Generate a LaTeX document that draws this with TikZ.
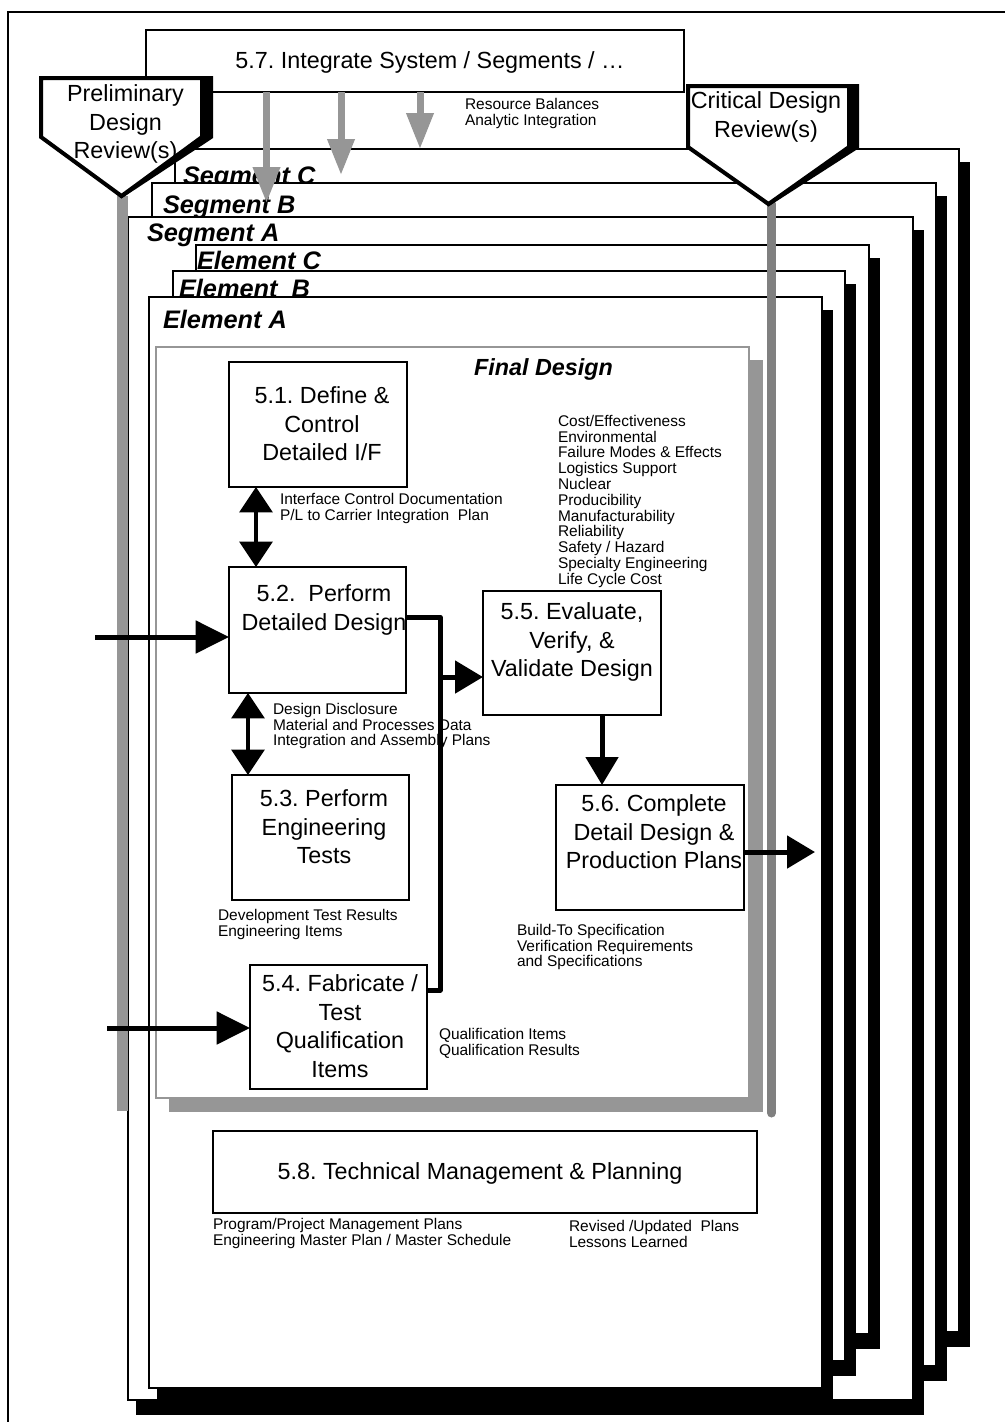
\documentclass[tikz,border=0pt]{standalone}
\usepackage{fontspec}
\setmainfont{Liberation Sans}
\usetikzlibrary{arrows.meta,calc}
\frenchspacing

\definecolor{dither}{RGB}{150,150,150}
\definecolor{bargray}{RGB}{128,128,128}

% one sheet of the stack: black offset shadow, then the white sheet
\newcommand{\stackpage}[4]{%
  \fill[black] (#1+8,#2+13) rectangle (#3+11,#4+15);
  \draw[sheet] (#1,#2) rectangle (#3,#4);}

\begin{document}
\begin{tikzpicture}[x=0.75pt,y=-0.75pt,
  every node/.style={inner sep=0pt,outer sep=0pt},
  frame/.style={draw=black,line width=1.5pt},
  sheet/.style={draw=black,fill=white,line width=1.5pt},
  sysbox/.style={draw=black,fill=white,line width=1.5pt},
  procbox/.style={draw=black,fill=white,line width=1.9pt},
  fdbox/.style={draw=dither,fill=white,line width=1.3pt},
  pagelabel/.style={anchor=base west,font=\fontsize{19}{22}\selectfont\bfseries\itshape},
  fdtitle/.style={anchor=north,font=\fontsize{17.5}{21}\selectfont\bfseries\itshape},
  boxtext/.style={anchor=north,align=center,font=\fontsize{17.5}{21.4}\selectfont},
  note/.style={anchor=north west,align=left,font=\fontsize{11.6}{11.85}\selectfont},
  review/.style={draw=black,fill=white,line width=3pt,line join=miter},
  reviewshadow/.style={draw=black,fill=black,line width=3pt,line join=miter},
  grayflow/.style={draw=dither,line width=5.25pt,-{Triangle[width=19.5pt,length=27pt]}},
  flow/.style={line width=3.75pt,-{Triangle[width=24pt,length=21pt]}},
  feed/.style={line width=3.75pt,-{Triangle[width=24pt,length=25pt]}},
  twoway/.style={line width=3pt,{Triangle[width=24.5pt,length=19pt]}-{Triangle[width=24.5pt,length=19pt]}},
  busline/.style={line width=3.75pt,line join=round},
]
\useasboundingbox (0,0) rectangle (1004,1422);
\fill[white] (0,0) rectangle (1004,1422);
% outer frame, running past the right and bottom edges
\draw[frame] (8,1430) -- (8,12) -- (1012,12);

% system integration box
\node[sysbox,minimum width=403.5pt,minimum height=46.5pt] (sys) at (415,61) {};
\node[boxtext] (sysT) at (430,52) {5.7. Integrate System / Segments / …};
\node[note] (sysN) at (465,98) {Resource Balances\\Analytic Integration};

% stacked segment and element sheets, back to front
\stackpage{175}{149}{959}{1332}
\node[pagelabel] (segC) at (183,184) {Segment C};
\stackpage{152}{183}{936}{1366}
\node[pagelabel] (segB) at (163,213) {Segment B};
\stackpage{128}{217}{913}{1400}
\node[pagelabel] (segA) at (147,241) {Segment A};
\stackpage{196}{245}{869}{1334}
\node[pagelabel] (elC) at (197,269) {Element C};
\stackpage{173}{271}{845}{1361}
\node[pagelabel] (elB) at (179,297) {Element\ \ B};
\stackpage{149}{297}{822}{1388}
\node[pagelabel] (elA) at (163,328) {Element A};

% integration arrows from 5.7 down onto the segments
\coordinate (g1) at (266.5,203);
\coordinate (g2) at (341,175);
\coordinate (g3) at (420,149);
\draw[grayflow] (g1 |- sys.south) -- (g1);
\draw[grayflow] (g2 |- sys.south) -- (g2);
\draw[grayflow] (g3 |- sys.south) -- (g3);

% review milestones with their timelines
\coordinate (pdrTip) at (121.5,196);
\coordinate (pdrFoot) at (122.5,1111);
\coordinate (cdrTip) at (768.5,204);
\coordinate (cdrFoot) at (771.5,1113);
\draw[dither,line width=8pt] (pdrTip -| pdrFoot) -- (pdrFoot);
\draw[bargray,line width=6.75pt,line cap=round] (cdrTip -| cdrFoot) -- (cdrFoot);

\draw[reviewshadow,shift={(9,0)}] (41,78) -- (202,78) -- (202,137) -- (pdrTip) -- (41,137) -- cycle;
\draw[review] (41,78) -- (202,78) -- (202,137) -- (pdrTip) -- (41,137) -- cycle;
\node[boxtext] (pdrT) at (125.5,85) {Preliminary\\Design\\Review(s)};

\draw[reviewshadow,shift={(8,0)}] (688,86) -- (849,86) -- (849,147) -- (cdrTip) -- (688,147) -- cycle;
\draw[review] (688,86) -- (849,86) -- (849,147) -- (cdrTip) -- (688,147) -- cycle;
\node[boxtext] (cdrT) at (766,92) {Critical Design\\Review(s)};

% final design frame
\fill[dither] (169,360) rectangle (763,1112);
\node[fdbox,minimum width=444.75pt,minimum height=563.25pt] (fd) at (452.5,722.5) {};
\node[fdtitle] (fdT) at (543.5,359) {Final Design};

% process boxes
\node[procbox,minimum width=133.5pt,minimum height=93.75pt] (p51) at (318,424.5) {};
\node[procbox,minimum width=132.75pt,minimum height=94.5pt] (p52) at (317.5,630) {};
\node[procbox,minimum width=132.75pt,minimum height=93.75pt] (p53) at (320.5,837.5) {};
\node[procbox,minimum width=132.75pt,minimum height=93pt] (p54) at (338.5,1027) {};
\node[procbox,minimum width=133.5pt,minimum height=93pt] (p55) at (572,653) {};
\node[procbox,minimum width=141pt,minimum height=93.75pt] (p56) at (650,847.5) {};
\node[procbox,minimum width=408pt,minimum height=61.5pt] (p58) at (485,1172) {};

\node[boxtext] (t51) at (322,387) {5.1. Define \&\\Control\\Detailed I/F};
\node[boxtext] (t52) at (324,585) {5.2.\ \ Perform\\Detailed Design};
\node[boxtext] (t53) at (324,790) {5.3. Perform\\Engineering\\Tests};
\node[boxtext] (t54) at (340,975) {5.4. Fabricate /\\Test\\Qualification\\Items};
\node[boxtext] (t55) at (572,603) {5.5. Evaluate,\\Verify, \&\\Validate Design};
\node[boxtext] (t56) at (654,795) {5.6. Complete\\Detail Design \&\\Production Plans};
\node[boxtext] (t58) at (480,1163) {5.8. Technical Management \& Planning};

% products and data
\node[note] (nICD) at (280,493) {Interface Control Documentation\\P/L to Carrier Integration\ \ Plan};
\node[note] (nSpec) at (558,415) {Cost/Effectiveness\\Environmental\\Failure Modes \& Effects\\Logistics Support\\Nuclear\\Producibility\\Manufacturability\\Reliability\\Safety / Hazard\\Specialty Engineering\\Life Cycle Cost};
\node[note] (nDD) at (273,703) {Design Disclosure\\Material and Processes Data\\Integration and Assembly Plans};
\node[note] (nDev) at (218,909) {Development Test Results\\Engineering Items};
\node[note] (nBuild) at (517,924) {Build-To Specification\\Verification Requirements\\and Specifications};
\node[note] (nQual) at (439,1028) {Qualification Items\\Qualification Results};
\node[note] (nProg) at (213,1218) {Program/Project Management Plans\\Engineering Master Plan / Master Schedule};
\node[note] (nRev) at (569,1220) {Revised /Updated\ \ Plans\\Lessons Learned};

% connectors
\coordinate (src52) at (95,637);
\coordinate (src54) at (107,1028);
\draw[feed] (src52) -- (src52 -| p52.west);
\draw[feed] (src54) -- (src54 -| p54.west);

\coordinate (d12) at ($(p51.south west)+(27,0)$);
\draw[twoway] (d12) -- (d12 |- p52.north);
\coordinate (d23) at ($(p52.south west)+(19,0)$);
\draw[twoway] (d23) -- (d23 |- p53.north);

\coordinate (busTop) at (440,617);
\coordinate (busTap) at (440,677);
\coordinate (busBot) at (440,990);
\draw[busline] (busTop -| p52.east) -- (busTop) -- (busBot) -- (busBot -| p54.east);
\draw[flow] (busTap) -- (busTap -| p55.west);

\coordinate (d56) at (602,750);
\draw[flow] (d56 |- p55.south) -- (d56 |- p56.north);

\coordinate (out56) at (815,852);
\draw[flow] (out56 -| p56.east) -- (out56);
\end{tikzpicture}
\end{document}
